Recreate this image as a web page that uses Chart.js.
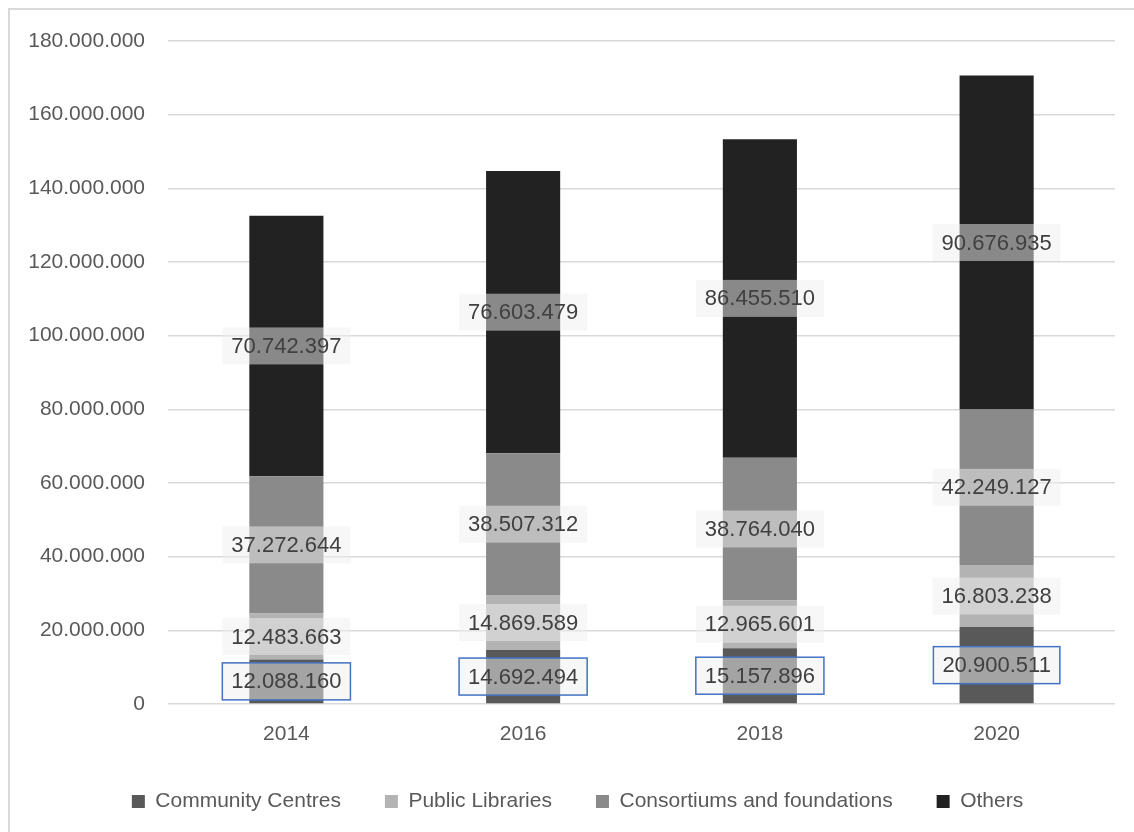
<!DOCTYPE html>
<html>
<head>
<meta charset="utf-8">
<script src="https://cdn.jsdelivr.net/npm/chart.js@4/dist/chart.umd.min.js"></script>
<style>
  html, body { margin: 0; padding: 0; background: #fff; overflow: hidden; }
  #frame {
    position: absolute; left: 8px; top: 8px; width: 1200px; height: 900px;
    border-left: 2px solid #d9d9d9; border-top: 2px solid #d9d9d9;
  }
  #wrap { position: absolute; left: 0; top: 0; width: 1134px; height: 832px; }
</style>
</head>
<body>
<div id="frame"></div>
<div id="wrap"><canvas id="myChart"></canvas></div>
<script>
const years = ['2014', '2016', '2018', '2020'];
const communityCentres = [12088160, 14692494, 15157896, 20900511];
const publicLibraries = [12483663, 14869589, 12965601, 16803238];
const consortiums = [37272644, 38507312, 38764040, 42249127];
const others = [70742397, 76603479, 86455510, 90676935];
const yTicks = [0, 20000000, 40000000, 60000000, 80000000, 100000000, 120000000, 140000000, 160000000, 180000000];

// 12088160 -> "12.088.160"
const fmt = v => String(v).replace(/\B(?=(\d{3})+(?!\d))/g, '.');

// value boxes drawn over the middle of every segment
const segmentLabels = {
    id: 'segmentLabels',
    afterDatasetsDraw(chart) {
        const ctx = chart.ctx;
        ctx.save();
        ctx.font = '22px "Liberation Sans", Arial, sans-serif';
        ctx.textAlign = 'center';
        ctx.textBaseline = 'middle';
        chart.data.datasets.forEach((ds, i) => {
            chart.getDatasetMeta(i).data.forEach((bar, j) => {
                const text = fmt(ds.data[j]);
                const cx = bar.x;
                const cy = (bar.y + bar.base) / 2;
                const w = ctx.measureText(text).width + 18;
                const h = 37;
                ctx.fillStyle = 'rgba(240, 240, 240, 0.5)';
                ctx.fillRect(cx - w / 2, cy - h / 2, w, h);
                if (i === 0) {
                    ctx.strokeStyle = '#4472c4';
                    ctx.lineWidth = 1.5;
                    ctx.strokeRect(cx - w / 2, cy - h / 2, w, h);
                }
                ctx.fillStyle = '#404040';
                ctx.fillText(text, cx, cy + 1);
            });
        });
        ctx.restore();
    }
};

// nudge the legend row a little to the right
const legendShift = {
    id: 'legendShift',
    afterLayout(chart) {
        chart.legend.left += 16;
        chart.legend.right += 16;
    }
};

const barCtx = document.getElementById('myChart').getContext('2d');
const myChart = new Chart(barCtx, {
    type: 'bar',
    data: {
        labels: years,
        datasets: [
            { label: 'Community Centres', data: communityCentres, backgroundColor: '#595959' },
            { label: 'Public Libraries', data: publicLibraries, backgroundColor: '#b3b3b3' },
            { label: 'Consortiums and foundations', data: consortiums, backgroundColor: '#8a8a8a' },
            { label: 'Others', data: others, backgroundColor: '#222222' }
        ]
    },
    options: {
        responsive: true,
        maintainAspectRatio: false,
        animation: false,
        layout: { padding: { left: 8, right: 19, top: 41, bottom: 10 } },
        datasets: { bar: { categoryPercentage: 1, barPercentage: 0.313 } },
        plugins: {
            legend: {
                position: 'bottom',
                labels: {
                    boxWidth: 13, boxHeight: 13, padding: 44,
                    color: '#595959',
                    font: { family: '"Liberation Sans", Arial, sans-serif', size: 21 }
                }
            },
            tooltip: { enabled: false }
        },
        scales: {
            x: {
                stacked: true,
                afterFit(scale) { scale.height = 43; },
                grid: { display: false, drawTicks: false },
                border: { display: false },
                ticks: {
                    color: '#595959', padding: 18,
                    font: { family: '"Liberation Sans", Arial, sans-serif', size: 21 }
                }
            },
            y: {
                stacked: true,
                min: 0, max: 180000000,
                afterFit(scale) { scale.width = 160; },
                afterBuildTicks(scale) { scale.ticks = yTicks.map(v => ({ value: v })); },
                grid: { color: '#d9d9d9', lineWidth: 1.5, drawTicks: false },
                border: { display: false },
                ticks: {
                    color: '#595959', padding: 23,
                    font: { family: '"Liberation Sans", Arial, sans-serif', size: 21 },
                    callback: v => fmt(v)
                }
            }
        }
    },
    plugins: [segmentLabels, legendShift]
});
</script>
</body>
</html>
